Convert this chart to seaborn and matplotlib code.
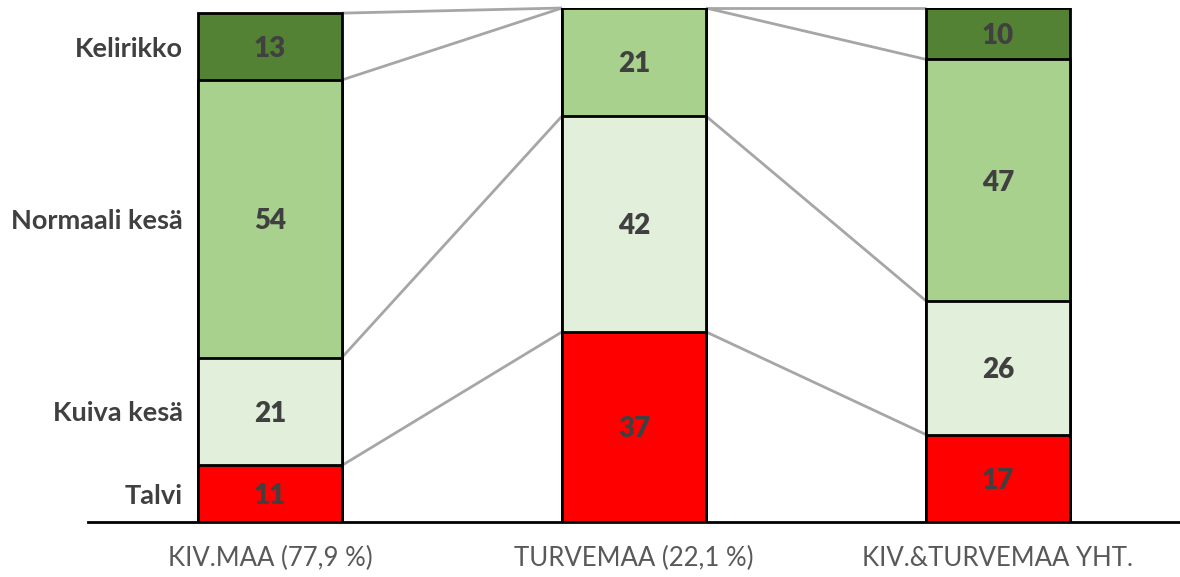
import numpy as np
import pandas as pd
import matplotlib
matplotlib.use("Agg")
import matplotlib.pyplot as plt
import seaborn as sns

# Share of damage by season (%) for each soil type
categories = ["KIV.MAA (77,9 %)", "TURVEMAA (22,1 %)", "KIV.&TURVEMAA YHT."]
seasons = ["Talvi", "Kuiva kesä", "Normaali kesä", "Kelirikko"]
talvi = [11, 37, 17]
kuiva_kesa = [21, 42, 26]
normaali_kesa = [54, 21, 47]
kelirikko = [13, 0, 10]

colors = ["#FF0000", "#E2EFDA", "#A9D18E", "#548235"]

sns.set_theme(style="white")
plt.rcParams["font.family"] = ["Lato", "DejaVu Sans"]

values = np.array([talvi, kuiva_kesa, normaali_kesa, kelirikko], dtype=float)
cum = np.cumsum(values, axis=0)
bottoms = cum - values

fig = plt.figure(figsize=(11.8, 5.77), dpi=100)
ax = fig.add_axes([88 / 1180, 55 / 577, 1 - 88 / 1180, 514 / 577])

bar_w = 0.395

# Stacked bars: draw cumulative totals from the top series down
for i in range(len(seasons) - 1, -1, -1):
    df = pd.DataFrame({"kategoria": categories, "arvo": cum[i]})
    sns.barplot(data=df, x="kategoria", y="arvo", color=colors[i],
                saturation=1, edgecolor="black", linewidth=2,
                width=bar_w, errorbar=None, ax=ax, zorder=3)

# Series lines connecting segment boundaries between neighbouring bars
for j in range(len(categories) - 1):
    for i in range(len(seasons)):
        ax.plot([j + bar_w / 2, j + 1 - bar_w / 2], [cum[i, j], cum[i, j + 1]],
                color="#A6A6A6", lw=2, zorder=2, clip_on=False,
                solid_capstyle="butt")

# Value labels inside segments
for i in range(len(seasons)):
    for j in range(len(categories)):
        v = values[i, j]
        if v > 0:
            ax.text(j, bottoms[i, j] + v / 2, f"{int(v)}", ha="center",
                    va="center_baseline", fontsize=20, fontweight="heavy",
                    color="#404040", zorder=5)

# Season labels beside the first bar
for i, s in enumerate(seasons):
    ax.text(-0.24, bottoms[i, 0] + values[i, 0] / 2, s, ha="right",
            va="center_baseline", fontsize=19.5, fontweight="bold",
            color="#404040")

ax.set_xlim(-0.5, 2.5)
ax.set_ylim(0, 100)
ax.set_xlabel("")
ax.set_ylabel("")
ax.set_yticks([])
ax.tick_params(axis="x", length=0, pad=17, labelsize=18.5, labelcolor="#595959")
for s in ["left", "right", "top"]:
    ax.spines[s].set_visible(False)
ax.spines["bottom"].set_color("black")
ax.spines["bottom"].set_linewidth(2)
ax.spines["bottom"].set_zorder(6)

fig.savefig("out.png", dpi=100)
